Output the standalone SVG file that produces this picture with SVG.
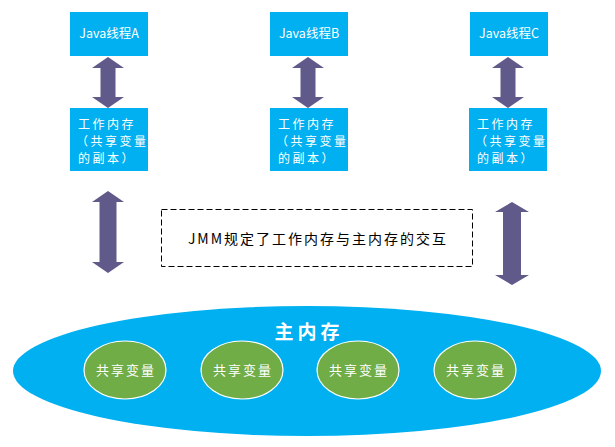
<svg xmlns="http://www.w3.org/2000/svg" width="615" height="447" viewBox="0 0 615 447">
<style>
.box{fill:#00b0f0}
.arr{fill:#5f5a8a}
.t{font-family:"Noto Sans CJK SC","Noto Sans",sans-serif;fill:#fff}
.tj{font-size:12.5px;text-anchor:middle}
.tw{font-size:12px;letter-spacing:2.5px}
.g{fill:#70ad47;stroke:#fff;stroke-width:1.2}
.gt{font-size:13px;text-anchor:middle;letter-spacing:2px}
</style>
<defs>
<path id="a1" d="M0,0 L16,11 L7.5,11 L7.5,40 L16,40 L0,51 L-16,40 L-7.5,40 L-7.5,11 L-16,11 Z"/>
</defs>
<rect width="615" height="447" fill="#fff"/>
<g id="main-memory">
<ellipse cx="307" cy="371" rx="294" ry="65" class="box"/>
<text x="309" y="339" class="t" font-size="19" font-weight="bold" text-anchor="middle" letter-spacing="4">主内存</text>
</g>
<g id="var1"><ellipse cx="125" cy="370" rx="41" ry="29" class="g"/><text x="126" y="375" class="t gt">共享变量</text></g>
<g id="var2"><ellipse cx="242" cy="370" rx="41" ry="29" class="g"/><text x="243" y="375" class="t gt">共享变量</text></g>
<g id="var3"><ellipse cx="358" cy="370" rx="41" ry="29" class="g"/><text x="359" y="375" class="t gt">共享变量</text></g>
<g id="var4"><ellipse cx="475" cy="370" rx="41" ry="29" class="g"/><text x="476" y="375" class="t gt">共享变量</text></g>
<g id="threadA"><rect x="70" y="12" width="78" height="44" class="box"/><text x="109" y="38" class="t tj">Java线程A</text></g>
<g id="threadB"><rect x="270" y="12" width="78" height="44" class="box"/><text x="309" y="38" class="t tj">Java线程B</text></g>
<g id="threadC"><rect x="470" y="12" width="78" height="44" class="box"/><text x="509" y="38" class="t tj">Java线程C</text></g>
<g id="workA"><rect x="70" y="108" width="78" height="63" class="box"/>
<text class="t tw"><tspan x="78" y="129">工作内存</tspan><tspan x="76" y="146">（共享变量</tspan><tspan x="78" y="163">的副本）</tspan></text></g>
<g id="workB"><rect x="270" y="108" width="78" height="63" class="box"/>
<text class="t tw"><tspan x="278" y="129">工作内存</tspan><tspan x="276" y="146">（共享变量</tspan><tspan x="278" y="163">的副本）</tspan></text></g>
<g id="workC"><rect x="469" y="108" width="78" height="63" class="box"/>
<text class="t tw"><tspan x="477" y="129">工作内存</tspan><tspan x="475" y="146">（共享变量</tspan><tspan x="477" y="163">的副本）</tspan></text></g>
<g id="note"><rect x="161.5" y="209.5" width="311" height="57" fill="none" stroke="#000" stroke-width="1" stroke-dasharray="6,3"/>
<text x="318" y="244" font-family="Noto Sans CJK SC,sans-serif" font-size="14" text-anchor="middle" fill="#000" letter-spacing="2">JMM规定了工作内存与主内存的交互</text></g>
<g id="connectors" class="arr">
<use href="#a1" transform="translate(108,57)"/>
<use href="#a1" transform="translate(308,57)"/>
<use href="#a1" transform="translate(508,57)"/>
<path d="M108,191 L124,202 L116.5,202 L116.5,262 L124,262 L108,273 L92,262 L99.5,262 L99.5,202 L92,202 Z"/>
<path d="M512,202 L529,212 L521,212 L521,275 L529,275 L512,285 L495,275 L503,275 L503,212 L495,212 Z"/>
</g>
</svg>
